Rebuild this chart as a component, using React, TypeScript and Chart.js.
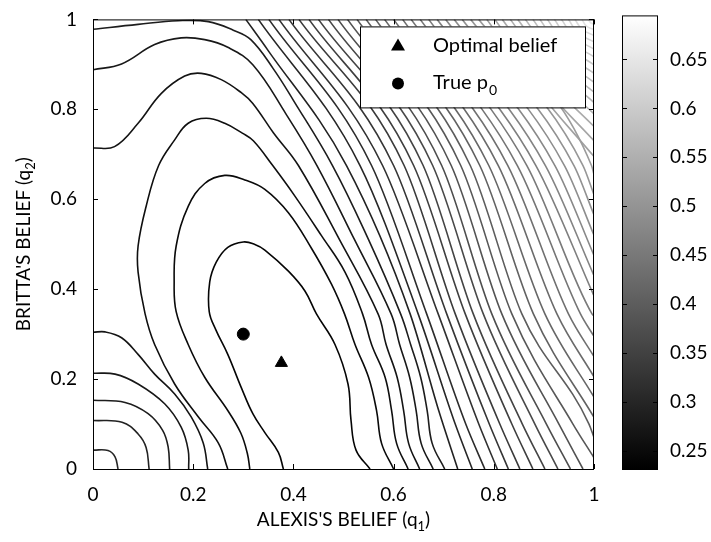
import React, { useEffect, useRef } from "react";
import { Chart, registerables } from "chart.js";
Chart.register(...registerables);

const FONT = "Lato, 'Open Sans', 'DejaVu Sans', sans-serif";

// ---------- axes / colour scale ----------
const xTicks = [0, 0.2, 0.4, 0.6, 0.8, 1];
const yTicks = [0, 0.2, 0.4, 0.6, 0.8, 1];
const colorbarTicks = [0.25, 0.3, 0.35, 0.4, 0.45, 0.5, 0.55, 0.6, 0.65];
const colorMin = 0.2316;
const colorMax = 0.695;
const levelStart = 0.2316;
const levelStep = 0.00975;

// ---------- markers ----------
const optimalBelief = [{ x: 0.376, y: 0.236 }];
const trueP0 = [{ x: 0.3, y: 0.3 }];

// ---------- contours (x = q1, y = q2) ----------
const arcA1 = [[0, 0.042], [0.03, 0.041], [0.044, 0.027], [0.05, 0]];
const arcA2 = [[0, 0.108], [0.058, 0.104], [0.09, 0.078], [0.106, 0.048], [0.112, 0]];
const arcA3 = [[0, 0.153], [0.064, 0.148], [0.11, 0.123], [0.139, 0.086], [0.15, 0.049], [0.153, 0]];
const arcA4 = [[0, 0.213], [0.044, 0.211], [0.09, 0.189], [0.143, 0.145], [0.176, 0.093], [0.19, 0.042], [0.191, 0]];
const arcA5 = [[0, 0.304], [0.024, 0.305], [0.057, 0.292], [0.09, 0.255], [0.123, 0.211], [0.163, 0.167], [0.196, 0.116], [0.22, 0.058], [0.229, 0]];
const loopB1 = [[0.38, 0], [0.37, 0.037], [0.343, 0.081], [0.319, 0.123], [0.296, 0.181], [0.269, 0.255], [0.245, 0.31], [0.232, 0.35], [0.233, 0.416], [0.246, 0.46], [0.269, 0.493], [0.3, 0.505], [0.322, 0.5], [0.343, 0.487], [0.39, 0.44], [0.423, 0.396], [0.446, 0.345], [0.483, 0.277], [0.509, 0.189], [0.515, 0.108], [0.525, 0.042], [0.553, 0]];
const loopB2 = [[0.313, 0], [0.308, 0.035], [0.295, 0.08], [0.269, 0.13], [0.223, 0.204], [0.19, 0.277], [0.166, 0.35], [0.162, 0.416], [0.166, 0.496], [0.19, 0.584], [0.223, 0.635], [0.263, 0.653], [0.303, 0.643], [0.343, 0.622], [0.39, 0.57], [0.436, 0.491], [0.476, 0.411], [0.502, 0.345], [0.523, 0.277], [0.55, 0.204], [0.566, 0.13], [0.576, 0.057], [0.6, 0]];
const loopB3 = [[0.269, 0], [0.25, 0.058], [0.21, 0.116], [0.163, 0.189], [0.123, 0.277], [0.104, 0.345], [0.09, 0.438], [0.09, 0.496], [0.106, 0.584], [0.131, 0.675], [0.163, 0.732], [0.19, 0.769], [0.226, 0.78], [0.263, 0.769], [0.298, 0.747], [0.32, 0.73], [0.358, 0.676], [0.403, 0.607], [0.456, 0.519], [0.503, 0.438], [0.538, 0.345], [0.556, 0.277], [0.583, 0.204], [0.596, 0.13], [0.606, 0.057], [0.629, 0]];
const bandC3 = [[0, 0.714], [0.043, 0.717], [0.09, 0.769], [0.136, 0.835], [0.183, 0.874], [0.216, 0.88], [0.256, 0.866], [0.296, 0.837], [0.319, 0.813], [0.36, 0.748], [0.41, 0.675], [0.492, 0.51], [0.569, 0.345], [0.585, 0.277], [0.607, 0.204], [0.62, 0.13], [0.63, 0.057], [0.652, 0]];
const bandC2 = [[0, 0.888], [0.057, 0.901], [0.123, 0.944], [0.176, 0.959], [0.223, 0.955], [0.269, 0.938], [0.319, 0.899], [0.385, 0.79], [0.447, 0.675], [0.522, 0.51], [0.595, 0.345], [0.612, 0.277], [0.632, 0.204], [0.645, 0.13], [0.655, 0.057], [0.679, 0]];
const bandC1 = [[0, 0.978], [0.09, 0.989], [0.17, 0.997], [0.23, 0.995], [0.28, 0.976], [0.315, 0.955], [0.36, 0.89], [0.4, 0.82], [0.478, 0.675], [0.55, 0.51], [0.614, 0.345], [0.634, 0.277], [0.654, 0.204], [0.667, 0.13], [0.677, 0.057], [0.702, 0]];
const bandC0 = [[0.305, 1], [0.35, 0.93], [0.506, 0.675], [0.633, 0.345], [0.69, 0.13], [0.728, 0]];

// diagonal family: top crossing, crossings at y = 0.675 / 0.345 / 0.1, then bottom or right edge
const diagTopX = [0.33, 0.351, 0.371, 0.391, 0.411, 0.431, 0.45, 0.47, 0.489, 0.508, 0.527, 0.545, 0.564, 0.582, 0.6, 0.618, 0.635, 0.653, 0.67, 0.687, 0.704, 0.721, 0.737, 0.754, 0.77, 0.786, 0.802, 0.817, 0.833, 0.848, 0.863, 0.878, 0.892, 0.907, 0.921, 0.935, 0.949, 0.962, 0.976, 0.989];
const diagX675 = [0.533, 0.556, 0.578, 0.6, 0.621, 0.64, 0.659, 0.678, 0.696, 0.715, 0.734, 0.753, 0.772, 0.79, 0.809, 0.828, 0.847, 0.866, 0.884, 0.903, 0.922, 0.941, 0.96, 0.978, 0.995];
const diagX345 = [0.649, 0.666, 0.689, 0.706, 0.723, 0.743, 0.759, 0.779, 0.796, 0.816, 0.836, 0.856, 0.879, 0.902, 0.926, 0.949, 0.973, 0.996, null, null, null, null, null, null, null];
const diagX10 = [0.723, 0.744, 0.77, 0.791, 0.812, 0.836, 0.857, 0.882, 0.905, 0.93, 0.958, 0.99, null, null, null, null, null, null, null, null, null, null, null, null, null];
const diagBottomX = [0.757, 0.782, 0.807, 0.829, 0.852, 0.878, 0.902, 0.928, 0.953, 0.978, null, null, null, null, null, null, null, null, null, null, null, null, null, null, null];
const diagRightY = [null, null, null, null, null, null, null, null, null, null, 0.025, 0.07, 0.115, 0.16, 0.205, 0.25, 0.295, 0.34, 0.385, 0.43, 0.475, 0.52, 0.565, 0.61, 0.655, 0.695, 0.73, 0.762, 0.79, 0.815, 0.838, 0.86, 0.88, 0.899, 0.917, 0.934, 0.95, 0.964, 0.977, 0.989];
// arcs round the top-right corner: one point midway along each
const arcMidX = [0.889, 0.895, 0.902, 0.909, 0.916, 0.923, 0.93, 0.937, 0.945, 0.953, 0.961, 0.969, 0.976, 0.985, 0.993];
const arcMidY = [0.841, 0.857, 0.872, 0.885, 0.898, 0.909, 0.92, 0.93, 0.941, 0.95, 0.96, 0.969, 0.978, 0.985, 0.993];

const scanHeights = [0.675, 0.345, 0.1];
const scanColumns = [diagX675, diagX345, diagX10];

type Contour = { level: number; pts: number[][]; monotone?: boolean };

function buildContours(): Contour[] {
  const list: Contour[] = [
    { level: 1, pts: loopB1 },
    { level: 2, pts: loopB2 },
    { level: 3, pts: loopB3 },
    { level: 4, pts: arcA5 },
    { level: 4, pts: bandC3 },
    { level: 5, pts: arcA4 },
    { level: 5, pts: bandC2 },
    { level: 6, pts: arcA3 },
    { level: 6, pts: bandC1 },
    { level: 7, pts: arcA2 },
    { level: 7, pts: bandC0, monotone: true },
    { level: 8, pts: arcA1 },
  ];
  const nScan = diagX675.length;
  for (let i = 0; i < diagTopX.length; i++) {
    const pts: number[][] = [[diagTopX[i], 1]];
    if (i < nScan) {
      scanColumns.forEach((col, k) => {
        const v = col[i];
        if (v !== null && v !== undefined) pts.push([v, scanHeights[k]]);
      });
    } else {
      const k = i - nScan;
      pts.push([arcMidX[k], arcMidY[k]]);
    }
    const bx = diagBottomX[i];
    if (bx !== null && bx !== undefined) pts.push([bx, 0]);
    const ry = diagRightY[i];
    if (ry !== null && ry !== undefined) pts.push([1, ry]);
    list.push({ level: 8 + i, pts, monotone: i < nScan });
  }
  return list;
}

function levelColor(level: number) {
  const v = levelStart + level * levelStep;
  const t = Math.min(1, Math.max(0, (v - colorMin) / (colorMax - colorMin)));
  const g = Math.round(232 * t);
  return `rgb(${g},${g},${g})`;
}

function drawRich(ctx: CanvasRenderingContext2D, parts: [string, boolean][], x: number, y: number, size: number) {
  const sub = Math.round(size * 0.68);
  let total = 0;
  parts.forEach(([t, s]) => {
    ctx.font = `${s ? sub : size}px ${FONT}`;
    total += ctx.measureText(t).width;
  });
  let cx = x - total / 2;
  ctx.textAlign = "left";
  ctx.textBaseline = "middle";
  parts.forEach(([t, s]) => {
    ctx.font = `${s ? sub : size}px ${FONT}`;
    ctx.fillText(t, cx, s ? y + size * 0.35 : y);
    cx += ctx.measureText(t).width;
  });
}

const decorPlugin = {
  id: "decor",
  afterDatasetsDraw(chart: any) {
    const { ctx, chartArea: a, scales } = chart;
    ctx.save();
    const lw = 225, lh = 81;
    const lx = a.right - 9 - lw, ly = a.top + 7;
    ctx.fillStyle = "#fff";
    ctx.fillRect(lx, ly, lw, lh);
    ctx.strokeStyle = "#000";
    ctx.lineWidth = 1;
    ctx.strokeRect(lx + 0.5, ly + 0.5, lw, lh);
    ctx.fillStyle = "#000";
    const tx = lx + 38, ty = ly + 19;
    ctx.beginPath();
    ctx.moveTo(tx, ty - 7);
    ctx.lineTo(tx + 7, ty + 5);
    ctx.lineTo(tx - 7, ty + 5);
    ctx.closePath();
    ctx.fill();
    ctx.beginPath();
    ctx.arc(lx + 38, ly + 57, 6, 0, Math.PI * 2);
    ctx.fill();
    ctx.font = `20px ${FONT}`;
    ctx.textAlign = "left";
    ctx.textBaseline = "middle";
    const labels = chart.data.datasets.filter((d: any) => d.legendLabel);
    ctx.fillText(labels[0].legendLabel, lx + 73, ty);
    ctx.fillText(labels[1].legendLabel, lx + 73, ly + 56);
    const w = ctx.measureText(labels[1].legendLabel).width;
    ctx.font = `14px ${FONT}`;
    ctx.fillText("0", lx + 73 + w + 1, ly + 64);
    ctx.strokeStyle = "#000";
    ctx.lineWidth = 1;
    ctx.strokeRect(a.left + 0.5, a.top + 0.5, a.right - a.left - 1, a.bottom - a.top);
    const tl = 5;
    ctx.beginPath();
    xTicks.forEach((v) => {
      const px = Math.round(scales.x.getPixelForValue(v)) + 0.5;
      ctx.moveTo(px, a.bottom);
      ctx.lineTo(px, a.bottom - tl);
      ctx.moveTo(px, a.top);
      ctx.lineTo(px, a.top + tl);
    });
    yTicks.forEach((v) => {
      const py = Math.round(scales.y.getPixelForValue(v)) + 0.5;
      ctx.moveTo(a.left, py);
      ctx.lineTo(a.left + tl, py);
      ctx.moveTo(a.right, py);
      ctx.lineTo(a.right - tl, py);
    });
    ctx.stroke();
    ctx.restore();
  },
  afterDraw(chart: any) {
    const { ctx, chartArea: a } = chart;
    ctx.save();
    ctx.fillStyle = "#000";
    drawRich(ctx, [["ALEXIS'S BELIEF (q", false], ["1", true], [")", false]], (a.left + a.right) / 2, a.bottom + 51, 19);
    ctx.translate(24, (a.top + a.bottom) / 2);
    ctx.rotate(-Math.PI / 2);
    drawRich(ctx, [["BRITTA'S BELIEF (q", false], ["2", true], [")", false]], 0, 0, 19);
    ctx.restore();
  },
};

const cbFramePlugin = {
  id: "cbframe",
  afterDatasetsDraw(chart: any) {
    const { ctx, chartArea: a, scales } = chart;
    ctx.save();
    ctx.strokeStyle = "#000";
    ctx.lineWidth = 1;
    ctx.strokeRect(a.left + 0.5, a.top + 0.5, a.right - a.left - 1, a.bottom - a.top);
    ctx.beginPath();
    colorbarTicks.forEach((v) => {
      const py = Math.round(scales.y.getPixelForValue(v)) + 0.5;
      ctx.moveTo(a.left, py);
      ctx.lineTo(a.left + 5, py);
      ctx.moveTo(a.right, py);
      ctx.lineTo(a.right - 5, py);
    });
    ctx.stroke();
    ctx.restore();
  },
};

export default function App() {
  const mainRef = useRef<HTMLCanvasElement>(null);
  const cbRef = useRef<HTMLCanvasElement>(null);

  useEffect(() => {
    const contours = buildContours();
    const datasets: any[] = contours.map((c) => ({
      data: c.pts.map(([x, y]) => ({ x, y })),
      showLine: true,
      borderColor: levelColor(c.level),
      borderWidth: 1.6,
      pointRadius: 0,
      tension: 0.4,
      cubicInterpolationMode: c.monotone ? "monotone" : "default",
      fill: false,
    }));
    datasets.push({
      legendLabel: "Optimal belief",
      data: optimalBelief,
      showLine: false,
      pointStyle: "triangle",
      pointRadius: 7,
      backgroundColor: "#000",
      borderColor: "#000",
    });
    datasets.push({
      legendLabel: "True p",
      data: trueP0,
      showLine: false,
      pointStyle: "circle",
      pointRadius: 6,
      backgroundColor: "#000",
      borderColor: "#000",
    });

    const tickFont = { family: FONT, size: 19 };
    const main = new Chart(mainRef.current!, {
      type: "line",
      data: { datasets },
      options: {
        responsive: false,
        animation: false,
        events: [],
        layout: { padding: { left: 0, top: 15, right: 117, bottom: 0 } },
        plugins: { legend: { display: false }, tooltip: { enabled: false } },
        scales: {
          x: {
            type: "linear",
            min: 0,
            max: 1,
            afterBuildTicks: (s: any) => { s.ticks = xTicks.map((v) => ({ value: v })); },
            afterFit: (s: any) => { s.height = 73; },
            grid: { display: false },
            border: { display: false },
            ticks: { autoSkip: false, maxRotation: 0, padding: 6, color: "#000", font: tickFont, callback: (v: any) => String(v) },
          },
          y: {
            type: "linear",
            min: 0,
            max: 1,
            afterBuildTicks: (s: any) => { s.ticks = yTicks.map((v) => ({ value: v })); },
            afterFit: (s: any) => { s.width = 93; },
            grid: { display: false },
            border: { display: false },
            ticks: { autoSkip: false, padding: 8, color: "#000", font: tickFont, callback: (v: any) => String(v) },
          },
        },
      },
      plugins: [decorPlugin],
    } as any);

    const cb = new Chart(cbRef.current!, {
      type: "bar",
      data: {
        labels: ["c"],
        datasets: [{
          data: [[colorMin, colorMax]],
          borderWidth: 0,
          barPercentage: 1,
          categoryPercentage: 1,
          backgroundColor: (ctx: any) => {
            const a = ctx.chart.chartArea;
            if (!a) return "#888";
            const g = ctx.chart.ctx.createLinearGradient(0, a.bottom, 0, a.top);
            g.addColorStop(0, "#000");
            g.addColorStop(1, "#fff");
            return g;
          },
        }],
      },
      options: {
        responsive: false,
        animation: false,
        events: [],
        layout: { padding: { left: 28, top: 15, right: 0, bottom: 73 } },
        plugins: { legend: { display: false }, tooltip: { enabled: false } },
        scales: {
          x: { display: false },
          y: {
            position: "right",
            min: colorMin,
            max: colorMax,
            afterBuildTicks: (s: any) => { s.ticks = colorbarTicks.map((v) => ({ value: v })); },
            afterFit: (s: any) => { s.width = 53; },
            grid: { display: false },
            border: { display: false },
            ticks: { autoSkip: false, padding: 4, color: "#000", font: tickFont, callback: (v: any) => String(v) },
          },
        },
      },
      plugins: [cbFramePlugin],
    } as any);

    return () => {
      main.destroy();
      cb.destroy();
    };
  }, []);

  return (
    <div style={{ position: "fixed", left: 0, top: 0, width: 711, height: 542, background: "#fff" }}>
      <canvas ref={mainRef} width={711} height={542} style={{ position: "absolute", left: 0, top: 0 }} />
      <canvas ref={cbRef} width={117} height={542} style={{ position: "absolute", left: 594, top: 0 }} />
    </div>
  );
}
